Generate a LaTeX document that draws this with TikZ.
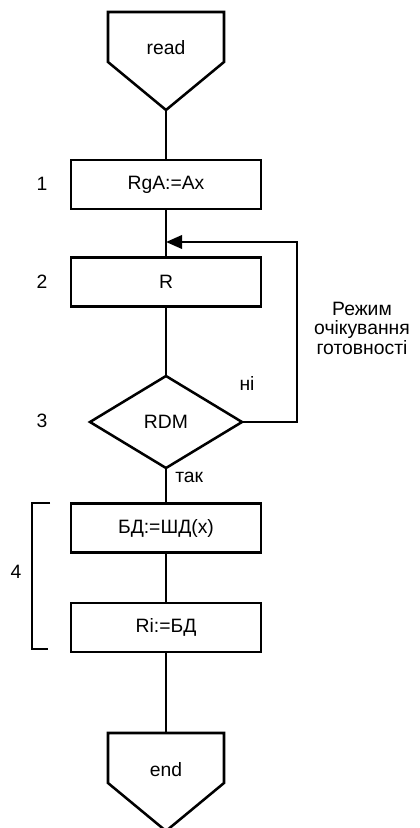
\documentclass[tikz,border=0pt]{standalone}
\usepackage{fontspec}
\setmainfont{Liberation Sans}
\usetikzlibrary{arrows.meta}
\begin{document}
\begin{tikzpicture}[x=0.75pt,y=-0.75pt,
  every node/.style={font=\fontsize{14.5}{14.6}\selectfont},
  line/.style={line width=1.9pt, line join=miter},
  procbox/.style={draw, line width=1.9pt, minimum width=142.5pt, minimum height=36.75pt, inner sep=0pt},
  stepnum/.style={inner sep=0pt},
  thin/.style={line width=0.9pt}]
\useasboundingbox (0,0) rectangle (419,828);

% terminator "read"
\draw[line] (108,12) -- (224,12) -- (224,62) -- (166,110) -- (108,62) -- cycle;
\node (read) at (166,48) {read};
\coordinate (readtip) at (166,110);

% process blocks
\node[procbox] (b1) at (166,184.5) {RgA:=Ax};
\node[procbox] (b2) at (166,282) {R};
\node[procbox] (b3) at (166,528) {БД:=ШД(x)};
\node[procbox] (b4) at (166,627.5) {Ri:=БД};

% decision RDM
\coordinate (dtop) at (166,376);
\coordinate (dright) at (242,422);
\coordinate (dbot) at (166,468);
\coordinate (dleft) at (90,422);
\draw[line] (dtop) -- (dright) -- (dbot) -- (dleft) -- cycle;
\node (rdm) at (166,422) {RDM};

% terminator "end"
\draw[line] (108,733) -- (224,733) -- (224,783) -- (166,831) -- (108,783) -- cycle;
\node (endt) at (166,770) {end};
\coordinate (endtop) at (166,733);

% main flow
\coordinate (join) at (166,242);
\draw[line] (readtip) -- (b1.north);
\draw[line] (b1.south) -- (b2.north);
\draw[line] (b2.south) -- (dtop);
\draw[line] (dbot) -- (b3.north);
\draw[line] (b3.south) -- (b4.north);
\draw[line] (b4.south) -- (endtop);

% wait loop
\coordinate (lp1) at (297,422);
\coordinate (lp2) at (297,242);
\draw[line, -{Triangle[length=12pt,width=10pt]}] (dright) -- (lp1) -- (lp2) -- (join);

% branch labels
\node[anchor=west, inner sep=0pt] (yes) at (175,477) {так};
\node (no) at (247,383) {ні};
\node[align=center, inner sep=0pt] (wait) at (362,328) {Режим\\очікування\\готовності};

% step numbers
\node[stepnum] (n1) at (42,184) {1};
\node[stepnum] (n2) at (42,282) {2};
\node[stepnum] (n3) at (42,421) {3};
\node[stepnum] (n4) at (16,572) {4};

% bracket grouping blocks 3 and 4
\draw[thin] (50,503) -- (32,503) -- (32,649) -- (48,649);
\end{tikzpicture}
\end{document}
